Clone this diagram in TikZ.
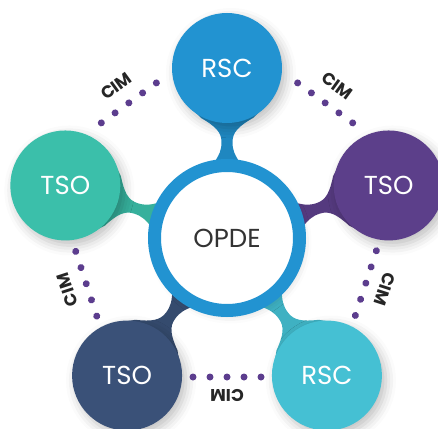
\documentclass[tikz,border=0pt]{standalone}
\usepackage{fontspec}
\setmainfont{Poppins}
\usetikzlibrary{shadows.blur}

\definecolor{rscblue}{HTML}{2293D1}
\definecolor{rsccyan}{HTML}{45C0D3}
\definecolor{tsoteal}{HTML}{3BBFAA}
\definecolor{tsopurple}{HTML}{5C3F8A}
\definecolor{tsonavy}{HTML}{3A5178}
\definecolor{cimpurple}{HTML}{5C3D8E}
\definecolor{opdegray}{HTML}{333333}

\begin{document}
\begin{tikzpicture}[x=1pt, y=1pt,
  hub/.style={circle, fill=white, draw=rscblue, line width=13pt, minimum size=145pt,
    text=opdegray, font=\fontsize{26}{26}\selectfont,
    blur shadow={shadow xshift=3pt, shadow yshift=-4pt, shadow blur radius=9pt, shadow opacity=20}},
  sat/.style={circle, fill=#1, minimum size=110pt, inner sep=0pt, text=white,
    font=\fontsize{26}{26}\selectfont,
    blur shadow={shadow xshift=4pt, shadow yshift=-5pt, shadow blur radius=10pt, shadow opacity=25}},
  neck/.style={fill=#1!92!black},
  cimdot/.style={fill=cimpurple},
  cimlab/.style={font=\bfseries\fontsize{17}{17}\selectfont, inner sep=1pt, text=black!85}]
\useasboundingbox (-227,-190) rectangle (211,238);
\clip (-227,-190) rectangle (211,238);
% necks between hub and satellites
\foreach \a/\c in {90/rscblue, 18/tsopurple, 306/rsccyan, 234/tsonavy, 162/tsoteal}
  \fill[neck=\c, rotate=\a] (72,-15) .. controls (84,-7) and (88,-5.5) .. (96,-5.5)
    .. controls (106,-5.5) and (112,-12) .. (120,-26) -- (128,-34) -- (128,34) -- (120,26)
    .. controls (112,12) and (106,5.5) .. (96,5.5) .. controls (88,5.5) and (84,7) .. (72,15) -- cycle;
% hub
\node[hub] (opde) at (0,0) {OPDE};
% satellites
\foreach \a/\n/\c/\t in {90/rsctop/rscblue/RSC, 18/tsoright/tsopurple/TSO,
    306/rscbottom/rsccyan/RSC, 234/tsobottom/tsonavy/TSO, 162/tsoleft/tsoteal/TSO}
  \node[sat=\c] (\n) at (\a:170) {\t};
% CIM links
\foreach \a/\d/\r in {126/167/188, 54/167/188, 342/146/166, 198/148/168, 270/139/157} {
  \begin{scope}[rotate=\a]
    \foreach \k in {-2,...,2}
      \fill[cimdot] (\d,\k*17) circle (3.5);
  \end{scope}
  \node[cimlab, rotate=\a-90] (cim\a) at (\a:\r) {CIM};
}
\end{tikzpicture}
\end{document}
